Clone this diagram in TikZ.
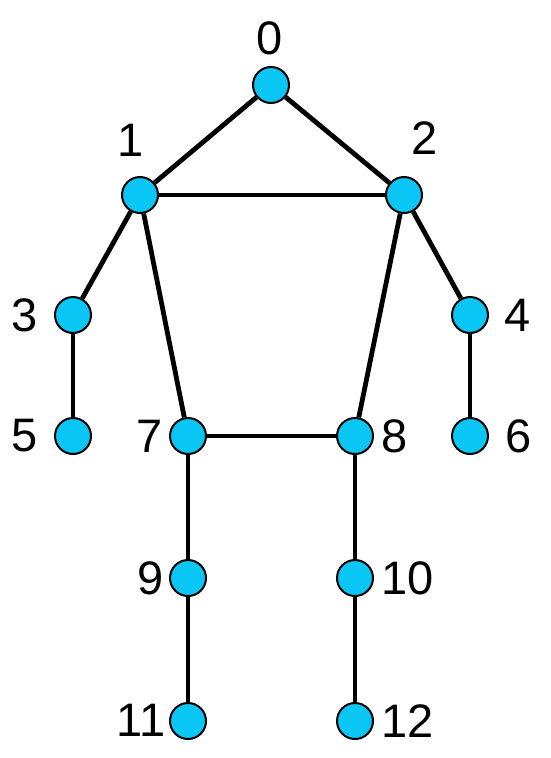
\documentclass[tikz,border=0pt]{standalone}
\usepackage{fontspec}
\setmainfont{Liberation Sans}
\usepackage{tikz}
\usetikzlibrary{positioning}
\definecolor{jointblue}{RGB}{10,198,245}

\begin{document}
\begin{tikzpicture}[x=1pt,y=-1pt,-,line width=4.8pt,
    joint node/.style={circle,draw=black,line width=2pt,fill=jointblue,inner sep=0pt,minimum size=36pt},
    num node/.style={inner sep=0pt,font=\fontsize{47}{47}\selectfont}]
   \useasboundingbox (0,0) rectangle (550,758);
   \begin{scope}
      % joints
      \node[joint node] (j0) at (271,85) {};
      \node[joint node] (j1) at (140,195) {};
      \node[joint node] (j2) at (404,195) {};
      \node[joint node] (j3) at (73,315) {};
      \node[joint node] (j4) at (470,315) {};
      \node[joint node] (j5) at (73,436) {};
      \node[joint node] (j6) at (470,436) {};
      \node[joint node] (j7) at (188,436) {};
      \node[joint node] (j8) at (355,436) {};
      \node[joint node] (j9) at (188,578) {};
      \node[joint node] (j10) at (355,578) {};
      \node[joint node] (j11) at (188,721) {};
      \node[joint node] (j12) at (355,721) {};
      % numbers
      \node[num node] (l0) at (270,38) {0};
      \node[num node] (l1) at (131,140) {1};
      \node[num node] (l2) at (425,138) {2};
      \node[num node] (l3) at (25,315) {3};
      \node[num node] (l4) at (518,315) {4};
      \node[num node] (l5) at (25,436) {5};
      \node[num node] (l6) at (519,436) {6};
      \node[num node] (l7) at (150,436) {7};
      \node[num node] (l8) at (395,436) {8};
      \node[num node] (l9) at (151,578) {9};
      \node[num node] (l10) at (408,578) {10};
      \node[num node] (l11) at (141,720) {11};
      \node[num node] (l12) at (408,721) {12};
      % bones
      \path (j0) edge (j1);
      \path (j0) edge (j2);
      \path (j1) edge (j2);
      \path (j1) edge (j3);
      \path (j3) edge (j5);
      \path (j2) edge (j4);
      \path (j4) edge (j6);
      \path (j1) edge (j7);
      \path (j2) edge (j8);
      \path (j7) edge (j8);
      \path (j7) edge (j9);
      \path (j9) edge (j11);
      \path (j8) edge (j10);
      \path (j10) edge (j12);
   \end{scope}
\end{tikzpicture}
\end{document}
